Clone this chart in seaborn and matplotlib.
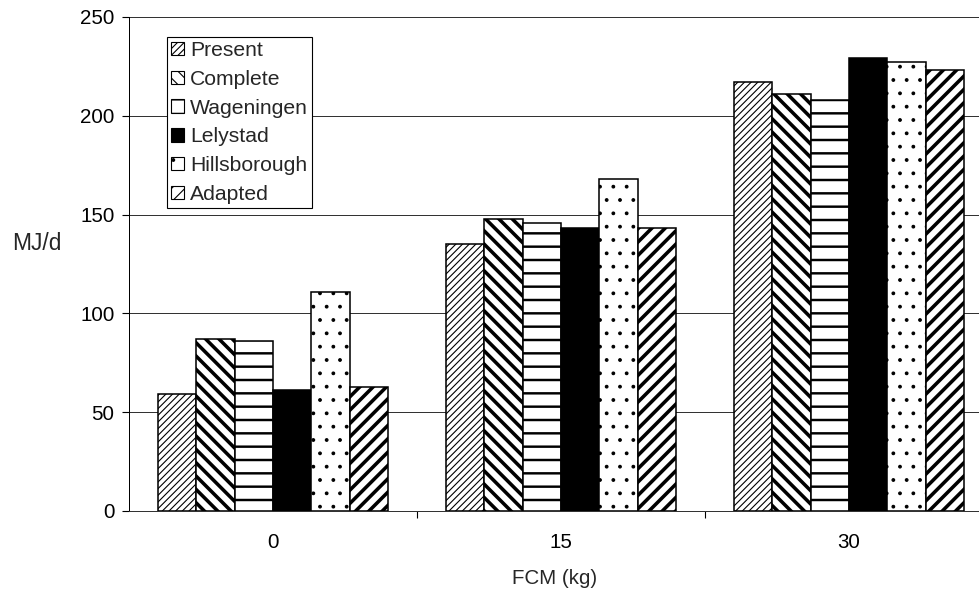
import matplotlib
matplotlib.use("Agg")
import matplotlib.pyplot as plt
import seaborn as sns
import pandas as pd
from matplotlib.patches import Patch
from matplotlib.ticker import FixedLocator

# ---- data ----
fcm_levels = ["0", "15", "30"]
models = ["Present", "Complete", "Wageningen", "Lelystad", "Hillsborough", "Adapted"]
present = [59, 135, 217]
complete = [87, 148, 211]
wageningen = [86, 146, 208]
lelystad = [61, 143, 229]
hillsborough = [111, 168, 227]
adapted = [63, 143, 223]
y_ticks = [0, 50, 100, 150, 200, 250]

series = [present, complete, wageningen, lelystad, hillsborough, adapted]
rows = []
for m, vals in zip(models, series):
    for f, v in zip(fcm_levels, vals):
        rows.append({"FCM": f, "Model": m, "MJ": v})
df = pd.DataFrame(rows)

# ---- style ----
sns.set_theme(style="white")
plt.rcParams["font.family"] = ["Liberation Sans", "DejaVu Sans"]
FS = 18.5

DPI = 80
W, H = 979, 592
fig = plt.figure(figsize=(W / DPI, H / DPI), dpi=DPI)
left_px, right_px, top_px, bottom_px = 129, 979, 17, 511
ax = fig.add_axes([left_px / W, 1 - bottom_px / H,
                   (right_px - left_px) / W, (bottom_px - top_px) / H])

sns.barplot(data=df, x="FCM", y="MJ", hue="Model", order=fcm_levels,
            hue_order=models, width=0.8, ax=ax, legend=False,
            palette=["white"] * 6, saturation=1, zorder=3)

styles = {
    "Present": dict(face="white", hatch="////", hlw=1.0),
    "Complete": dict(face="white", hatch="\\\\", hlw=3.2),
    "Wageningen": dict(face="white", hatch="-", hlw=2.2),
    "Lelystad": dict(face="black", hatch=None, hlw=1.0),
    "Hillsborough": dict(face="white", hatch=".", hlw=1.0),
    "Adapted": dict(face="white", hatch="//", hlw=3.2),
}

for cont, m in zip(ax.containers, models):
    st = styles[m]
    for bar in cont:
        bar.set_facecolor(st["face"])
        bar.set_edgecolor("black")
        bar.set_linewidth(1.4)
        if st["hatch"]:
            bar.set_hatch(st["hatch"])
            if hasattr(bar, "set_hatch_linewidth"):
                bar.set_hatch_linewidth(st["hlw"])

# axes
px_per_unit = 288.0
ax.set_xlim(-0.5, -0.5 + (right_px - left_px) / px_per_unit)
ax.set_ylim(0, 250)
ax.set_yticks(y_ticks)
ax.set_yticklabels([str(t) for t in y_ticks], fontsize=FS)
ax.set_xticks(range(len(fcm_levels)))
ax.set_xticklabels(fcm_levels, fontsize=FS)
ax.xaxis.set_minor_locator(FixedLocator([0.5, 1.5]))
ax.tick_params(axis="x", which="major", length=0, pad=20, colors="black")
ax.tick_params(axis="x", which="minor", length=6, width=1, direction="out",
               color="black", bottom=True)
ax.tick_params(axis="y", length=6, width=1, direction="out", pad=7,
               colors="black", left=True)
ax.yaxis.grid(True, color="#333333", linewidth=0.9, zorder=0)
ax.set_axisbelow(True)
for s in ["top", "right"]:
    ax.spines[s].set_visible(False)
ax.spines["left"].set_color("black")
ax.spines["left"].set_linewidth(0.9)
ax.spines["bottom"].set_color("#333333")
ax.spines["bottom"].set_linewidth(0.9)
ax.set_xlabel("")
ax.set_ylabel("")

fig.text(37 / W, 1 - 243 / H, "MJ/d", fontsize=20.5, ha="center", va="center")
fig.text(555 / W, 1 - 579 / H, "FCM (kg)", fontsize=FS, ha="center", va="center")

# legend
handles = []
for m in models:
    st = styles[m]
    p = Patch(facecolor=st["face"], edgecolor="black", linewidth=1.0,
              hatch=st["hatch"], label=m)
    handles.append(p)
leg = ax.legend(handles=handles, loc="upper left",
                bbox_to_anchor=((167 - left_px) / (right_px - left_px),
                                1 - (37 - top_px) / (bottom_px - top_px)),
                fontsize=19, frameon=True, fancybox=False, framealpha=1,
                edgecolor="black", handlelength=0.6, handleheight=0.6,
                handletextpad=0.3, labelspacing=0.46, borderpad=0.2,
                borderaxespad=0)
leg.get_frame().set_linewidth(1.0)
leg.set_zorder(5)

fig.savefig("out.png", dpi=DPI)
